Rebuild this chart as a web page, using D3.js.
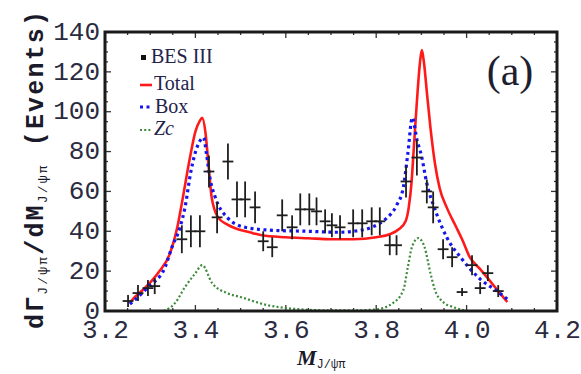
<!DOCTYPE html>
<html><head><meta charset="utf-8">
<script src="https://cdn.jsdelivr.net/npm/d3@7"></script>
<style>body{margin:0;background:#fff;}svg{display:block;}</style>
</head><body><svg id="c" width="581" height="374"></svg>
<script>
// ---- data ----
const dataM   = [3.251,3.273,3.295,3.31,3.37,3.39,3.41,3.43,3.448,3.472,3.492,3.51,3.532,3.55,3.57,3.592,3.614,3.632,3.652,3.668,3.687,3.702,3.72,3.749,3.769,3.79,3.808,3.83,3.845,3.866,3.89,3.912,3.926,3.948,3.968,3.99,4.012,4.03,4.047,4.07];
const dataV   = [5,9,11.5,12.5,36,40,40,70,47,75,56,56,52,35,32,48,42,51,51,50,45,43,42,44,44,45,45,33,33,65,77,60,52,31,27,9.5,23,11.5,19,10];
const dataErr = [3,4,4,4,7,8,8,8,8,9,9,9,8,5,5,8,6,8,8,7,6,6,6,7,7,7,7,5,5,8,9,6,8,5,5,2,5,3,4,3];

const totalM = [3.255,3.26,3.288,3.317,3.344,3.36,3.37,3.388,3.40,3.41,3.415,3.422,3.428,3.436,3.45,3.47,3.488,3.52,3.547,3.6,3.65,3.7,3.75,3.8,3.83,3.85,3.865,3.872,3.878,3.883,3.89,3.897,3.901,3.906,3.912,3.92,3.93,3.94,3.956,3.975,3.99,4.007,4.03,4.052,4.07,4.09];
const totalV = [4,5.5,11.5,19,29,42,54,77,90,95.5,97,90,76,57,47,43.5,41.5,39.5,38,37,36.5,36,36,37,38.5,41,45,52,64,81,105,125,131,124,110,92,74,62,52,43,36,27,21,15,10,4.5];

const boxM = [3.255,3.266,3.295,3.333,3.348,3.366,3.377,3.39,3.405,3.418,3.425,3.432,3.444,3.47,3.51,3.57,3.65,3.72,3.75,3.79,3.82,3.845,3.86,3.87,3.88,3.89,3.90,3.912,3.93,3.956,3.99,4.03,4.067,4.09];
const boxV = [3.5,5.5,12,22,32,42,52,70,83,87,78,67,57,47,42,40.5,40,39.5,40,42,46,53,62,79,97,86,78,64,51,37,26,16,10,6];

const zcM = [3.33,3.355,3.377,3.40,3.415,3.437,3.47,3.5,3.558,3.6,3.65,3.7,3.75,3.8,3.837,3.86,3.87,3.879,3.893,3.907,3.92,3.93,3.948,3.97,3.99,4.0];
const zcV = [0,4,12,19,23,14,9,7,3,1.5,0.6,0.3,0.3,0.8,4,10.5,22,32,36.6,32,19,10.5,4.5,2,0.6,0];

const xTicks = [3.2,3.4,3.6,3.8,4.0,4.2];
const yTicks = [0,20,40,60,80,100,120,140];

// ---- layout ----
const svg = d3.select('#c');
const x = d3.scaleLinear().domain([3.2,4.2]).range([105,557]);
const y = d3.scaleLinear().domain([0,140]).range([311,32]);
const X0 = x.range()[0], X1 = x.range()[1], Y0 = y.range()[0], Y1 = y.range()[1];

// ticks inside frame
const tk = svg.append('g').attr('stroke','#333').attr('stroke-width',1.3);
d3.range(3.2,4.2001,0.05).forEach(v=>{
  const major = Math.abs(v*5 - Math.round(v*5))<1e-6;
  const L = major?6:3;
  tk.append('line').attr('x1',x(v)).attr('x2',x(v)).attr('y1',Y0).attr('y2',Y0-L);
  tk.append('line').attr('x1',x(v)).attr('x2',x(v)).attr('y1',Y1).attr('y2',Y1+L);
});
d3.range(0,140.001,5).forEach(v=>{
  const major = v%20===0;
  const L = major?6:3;
  tk.append('line').attr('y1',y(v)).attr('y2',y(v)).attr('x1',X0).attr('x2',X0+L);
  tk.append('line').attr('y1',y(v)).attr('y2',y(v)).attr('x1',X1).attr('x2',X1-L);
});

// axis labels via d3 axes (no lines)
const xAxis = svg.append('g').attr('transform',`translate(0,${Y0})`)
  .call(d3.axisBottom(x).tickValues(xTicks).tickFormat(d3.format('.1f')).tickSize(0).tickPadding(9));
xAxis.select('.domain').remove();
xAxis.selectAll('text').attr('font-family','Liberation Mono, monospace').attr('font-size',26).attr('fill','#2b2b3f');

const yAxis = svg.append('g').attr('transform',`translate(${X0},0)`)
  .call(d3.axisLeft(y).tickValues(yTicks).tickFormat(d3.format('d')).tickSize(0).tickPadding(5));
yAxis.select('.domain').remove();
yAxis.selectAll('text').attr('font-family','Liberation Mono, monospace').attr('font-size',26).attr('fill','#2b2b3f').attr('dy','0.28em');

// curves
const line = d3.line().curve(d3.curveMonotoneX);
const pts = (M,V)=>M.map((m,i)=>[x(m),y(V[i])]);
svg.append('path').attr('d',line(pts(zcM,zcV))).attr('fill','none')
  .attr('stroke','#3d8a3d').attr('stroke-width',2.2).attr('stroke-dasharray','2,2.2');
svg.append('path').attr('d',line(pts(totalM,totalV))).attr('fill','none')
  .attr('stroke','#ff1a1a').attr('stroke-width',2.6);
svg.append('path').attr('d',line(pts(boxM,boxV))).attr('fill','none')
  .attr('stroke','#1515ee').attr('stroke-width',3.2).attr('stroke-dasharray','3,3.5');

// data points with error bars
const g = svg.append('g').attr('stroke','#1e1e1e').attr('stroke-width',1.8);
dataM.forEach((m,i)=>{
  g.append('line').attr('x1',x(m)).attr('x2',x(m)).attr('y1',y(dataV[i]-dataErr[i])).attr('y2',y(dataV[i]+dataErr[i]));
  g.append('line').attr('x1',x(m-0.012)).attr('x2',x(m+0.012)).attr('y1',y(dataV[i])).attr('y2',y(dataV[i]));
});

// frame
svg.append('rect').attr('x',X0).attr('y',Y1).attr('width',X1-X0).attr('height',Y0-Y1)
  .attr('fill','none').attr('stroke','#1a1a1a').attr('stroke-width',3);

// legend
const lg = svg.append('g').attr('font-family','Liberation Serif, serif').attr('font-size',20).attr('fill','#23234a');
lg.append('rect').attr('x',141).attr('y',55).attr('width',5).attr('height',5).attr('fill','#111');
lg.append('text').attr('x',151).attr('y',63).text('BES III');
lg.append('line').attr('x1',140).attr('x2',152).attr('y1',85).attr('y2',85).attr('stroke','#ff1a1a').attr('stroke-width',2.6);
lg.append('text').attr('x',154).attr('y',90).text('Total');
lg.append('line').attr('x1',140).attr('x2',153).attr('y1',107).attr('y2',107).attr('stroke','#1515ee').attr('stroke-width',3).attr('stroke-dasharray','3,3.5');
lg.append('text').attr('x',155).attr('y',113).text('Box');
lg.append('line').attr('x1',140).attr('x2',152).attr('y1',130).attr('y2',130).attr('stroke','#3d8a3d').attr('stroke-width',2.2).attr('stroke-dasharray','2,2.2');
lg.append('text').attr('x',154).attr('y',135).attr('font-style','italic').text('Zc');

svg.append('text').attr('x',510).attr('y',85).attr('text-anchor','middle')
  .attr('font-family','Liberation Serif, serif').attr('font-size',42).attr('fill','#1e1e30').text('(a)');

// axis titles
const xt = svg.append('text').attr('x',297).attr('y',365).attr('font-family','Liberation Serif, serif')
  .attr('fill','#1a1a2a');
xt.append('tspan').attr('font-size',22).attr('font-weight','bold').attr('font-style','italic').text('M');
xt.append('tspan').attr('font-size',12).attr('font-family','Liberation Mono, monospace').attr('dy',3).text('J/ψπ');

const yt = svg.append('text').attr('transform','translate(43,170) rotate(-90)').attr('text-anchor','middle')
  .attr('font-family','Liberation Mono, monospace').attr('font-weight','bold').attr('fill','#1a1a2a')
  .attr('textLength',318).attr('lengthAdjust','spacing');
yt.append('tspan').attr('font-size',25).text('dΓ');
yt.append('tspan').attr('font-size',13).attr('font-weight','normal').attr('dy',4).text('J/ψπ');
yt.append('tspan').attr('font-size',25).attr('dy',-4).text('/dM');
yt.append('tspan').attr('font-size',13).attr('font-weight','normal').attr('dy',4).text('J/ψπ');
yt.append('tspan').attr('font-size',25).attr('dy',-4).text(' (Events)');
</script></body></html>
